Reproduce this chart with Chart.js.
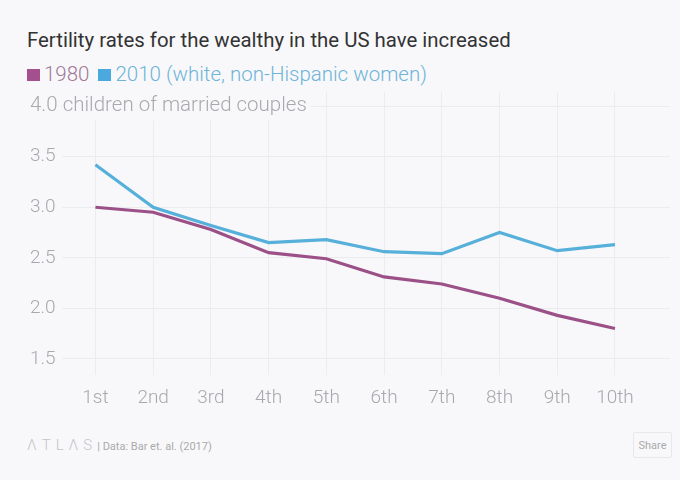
<!DOCTYPE html>
<html>
<head>
<meta charset="utf-8">
<script src="https://cdn.jsdelivr.net/npm/chart.js@4"></script>
<style>
  html, body { margin:0; padding:0; background:#f8f8fa; width:680px; height:480px; overflow:hidden; font-family: Roboto, "Noto Sans", sans-serif; }
  #title { position:absolute; left:27px; top:28px; font-size:20.4px; color:#333; font-weight:400; white-space:nowrap; }
  #legend { position:absolute; left:27px; top:62px; font-size:20.5px; font-weight:300; white-space:nowrap; }
  #legend .sq { display:inline-block; width:13px; height:12px; margin-right:4px; vertical-align:0px; }
  #legend .it { margin-right:9px; }
  #wrap { position:absolute; left:0; top:90px; width:680px; height:320px; }
  #wrap canvas { display:block; }
  #footer { position:absolute; left:27px; top:436px; font-size:15px; color:#c4c4c8; white-space:nowrap; }
  #footer .logo { letter-spacing:5px; font-weight:300; }
  #footer .src { font-size:11px; color:#aaa; letter-spacing:0; }
  #share { position:absolute; left:633px; top:432px; width:39px; height:26px; border:1px solid #e8e8ea; border-radius:2px; font-size:11px; color:#aaa; text-align:center; line-height:25px; box-sizing:border-box; }
</style>
</head>
<body>
<div id="title">Fertility rates for the wealthy in the US have increased</div>
<div id="legend"></div>
<div id="wrap"><canvas id="c" width="680" height="320"></canvas></div>
<div id="footer"><span class="logo">ΛTLΛS</span><span class="src">| Data: Bar et. al. (2017)</span></div>
<div id="share">Share</div>
<script>
const categories = ["1st","2nd","3rd","4th","5th","6th","7th","8th","9th","10th"];
const series1980 = [3.00, 2.95, 2.78, 2.55, 2.49, 2.31, 2.24, 2.10, 1.93, 1.80];
const series2010 = [3.42, 3.00, 2.82, 2.65, 2.68, 2.56, 2.54, 2.75, 2.57, 2.63];
const seriesNames = ["1980", "2010 (white, non-Hispanic women)"];
const yTicks = [1.5, 2.0, 2.5, 3.0, 3.5, 4.0];
const yUnitLabel = "children of married couples";

const lineColors = ["#9b5087", "#56b0da"];
const squareColors = ["#a4508f", "#4aa9dd"];
const textColors = ["#a07898", "#6eb4d8"];
const BG = "#f8f8fa";
const TICK_COLOR = "#a9a9ad";
const TICK_FONT = { family: 'Roboto', size: 19, weight: 300 };
const UNIT_FONT = { family: 'Roboto', size: 20.5, weight: 300 };

const leg = document.getElementById('legend');
seriesNames.forEach((n, i) => {
  const s = document.createElement('span');
  s.className = 'it';
  s.style.color = textColors[i];
  s.innerHTML = '<span class="sq" style="background:' + squareColors[i] + '"></span>' + n;
  leg.appendChild(s);
});

const toXY = arr => arr.map((v, i) => ({x: i + 1, y: v}));
const topTick = yTicks[yTicks.length - 1];

const topLabelPlugin = {
  id: 'topLabel',
  afterDatasetsDraw(chart) {
    const ys = chart.scales.y;
    const ctx = chart.ctx;
    const py = ys.getPixelForValue(topTick);
    const text = topTick.toFixed(1) + ' ' + yUnitLabel;
    ctx.save();
    ctx.font = UNIT_FONT.weight + ' ' + UNIT_FONT.size + 'px ' + UNIT_FONT.family;
    const w = ctx.measureText(text).width;
    ctx.fillStyle = BG;
    ctx.fillRect(26, py - 14, w + 8, 28);
    ctx.fillStyle = TICK_COLOR;
    ctx.textBaseline = 'middle';
    ctx.textAlign = 'left';
    ctx.fillText(text, 30, py);
    ctx.restore();
  }
};

const noPad = s => { s.paddingTop = 0; s.paddingBottom = 0; s.paddingLeft = 0; s.paddingRight = 0; };

new Chart(document.getElementById('c'), {
  type: 'line',
  data: {
    datasets: [
      { label: seriesNames[0], data: toXY(series1980), borderColor: lineColors[0], borderWidth: 3.2, pointRadius: 0, tension: 0, fill: false },
      { label: seriesNames[1], data: toXY(series2010), borderColor: lineColors[1], borderWidth: 3.2, pointRadius: 0, tension: 0, fill: false }
    ]
  },
  plugins: [topLabelPlugin],
  options: {
    responsive: false,
    animation: false,
    events: [],
    layout: { autoPadding: false, padding: { left: 30, right: 10, top: 2, bottom: 0 } },
    plugins: { legend: { display: false }, title: { display: false }, tooltip: { enabled: false } },
    scales: {
      x: {
        type: 'linear',
        min: 0.421, max: 10.953,
        afterBuildTicks: s => { s.ticks = categories.map((c, i) => ({ value: i + 1 })); },
        afterFit: s => { s.height = 35; noPad(s); },
        grid: { color: '#ececee', lineWidth: 1, drawTicks: false },
        border: { display: false },
        ticks: {
          callback: v => categories[Math.round(v) - 1],
          color: TICK_COLOR, font: TICK_FONT, padding: 12, maxRotation: 0, autoSkip: false
        }
      },
      y: {
        min: 1.34, max: 4.14,
        afterBuildTicks: s => { s.ticks = yTicks.map(v => ({ value: v })); },
        afterFit: s => { s.width = 32; noPad(s); },
        grid: { color: '#ececee', lineWidth: 1, drawTicks: false },
        border: { display: false },
        ticks: {
          crossAlign: 'far',
          callback: v => v === topTick ? '' : v.toFixed(1),
          color: TICK_COLOR, font: TICK_FONT, padding: 7
        }
      }
    }
  }
});
</script>
</body>
</html>
